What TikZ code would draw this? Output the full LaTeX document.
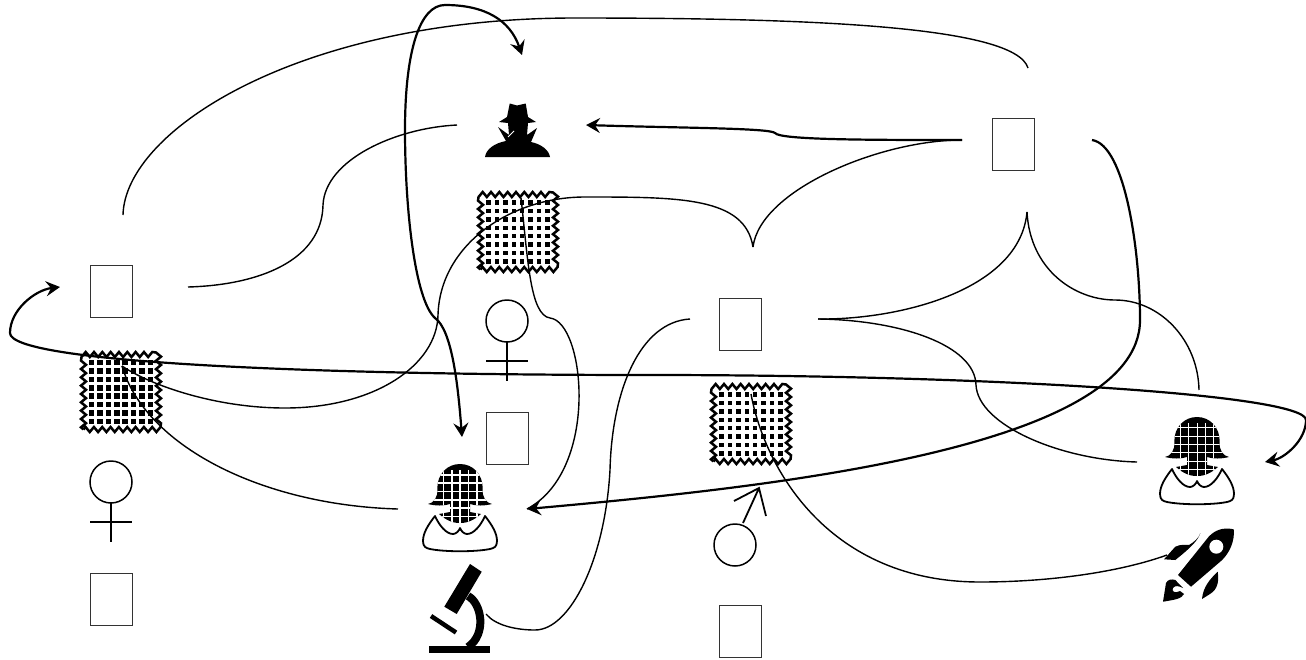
\documentclass[tikz,border=0pt]{standalone}
\usetikzlibrary{arrows.meta}
\usetikzlibrary{decorations.pathmorphing}

\tikzset{
	boxnode/.style={draw=black!80,line width=0.9pt,fill=white,minimum width=42,minimum height=52,inner sep=0pt,outer sep=0pt},
	stampbox/.style={draw,line width=2.5pt,minimum size=75,inner sep=0pt,outer sep=0pt,decorate,
		decoration={zigzag,segment length=8.33,amplitude=2.5},
		path picture={
			\foreach \i in {-3.5,...,3.5}
				\foreach \j in {-3.5,...,3.5}
					\path[decorate=false,draw=none,fill=black,line width=0pt,shift={(path picture bounding box.center)}] (\i*8.4-#1/2,\j*8.4-#1/2) rectangle +(#1,#1);
		}},
	link/.style={line width=1.4pt},
	flow/.style={line width=2.2pt},
	flowtip/.tip={Stealth[length=14pt,width=15pt,inset=5pt]},
	pics/venus/.style={code={
		\draw [line width=1.5pt] (0,0) circle (21);
		\draw [line width=1.8pt] (0,21) -- (0,60) (-21,40) -- (21,40);
	}},
	pics/mars/.style={code={
		\draw [line width=1.5pt] (0,0) circle (21);
		\draw [line width=1.8pt] (8,-22) -- (24,-57) (-1,-44) -- (24,-57) -- (31,-29);
	}},
	pics/woman/.style={code={
		\fill [path picture={
			\foreach \k in {-16.7,-8.3,0,8.3,16.7} \draw [white,line width=#1] (\k,-33) -- (\k,30);
			\foreach \k in {-28.3,-20,-11.7,-3.3,5,13.3,21.7} \draw [white,line width=#1] (-35,\k) -- (35,\k);
		}]
			(-32,1) .. controls (-26,0) and (-22,-6) .. (-22.7,-14)
			.. controls (-23,-29) and (-12.7,-39) .. (0,-39)
			.. controls (12.7,-39) and (23,-29) .. (22.7,-14)
			.. controls (22,-6) and (26,0) .. (32,1)
			.. controls (24,3) and (16,3) .. (10,1) -- (10,9) -- (21,11)
			.. controls (12,19) and (5,20) .. (0,20) .. controls (-5,20) and (-12,19) .. (-21,11)
			-- (-10,9) -- (-10,1)
			.. controls (-16,3) and (-24,3) .. cycle;
		\draw [fill=white,line width=1.8pt,line join=round]
			(-25,13) .. controls (-32,22) and (-37,30) .. (-37,38)
			.. controls (-37,44) and (-34,45) .. (-30,46)
			.. controls (-15,49) and (15,49) .. (30,46)
			.. controls (34,45) and (37,44) .. (37,38)
			.. controls (37,30) and (32,22) .. (25,13)
			.. controls (21,22) and (14,31) .. (7,31)
			.. controls (4,31) and (1,28) .. (0,25)
			.. controls (-1,28) and (-4,31) .. (-7,31)
			.. controls (-14,31) and (-21,22) .. cycle;
	}},
	pics/spy/.style={code={
		\fill (-7.3,-26.5) -- (0,-24.5) -- (8.7,-26.5) -- (11,-13) -- (19,-8) -- (11,-7) -- (10,5) -- (20,-2) -- (14,12)
			.. controls (24,14) and (32,20) .. (33,27) -- (-32,27)
			.. controls (-31,19) and (-22,13) .. (-11,11) -- (-19,-3) -- (-8,5) -- (-9,-7) -- (-18,-8) -- (-10,-13) -- cycle;
		\draw [white,line width=1pt] (-9,7) -- (-3,1);
	}},
	pics/scope/.style={code={
		\fill (10,-56) -- (21.7,-48.3) -- (-3.3,-6) -- (-15.7,-13.3) -- cycle;
		\fill (-30.7,25.7) rectangle (30,32.7);
		\draw [line width=4.5pt] (-29,-4) -- (-4,12.5);
		\draw [line width=8pt] (8,-24) .. controls (21.7,-16.7) and (27,14) .. (8,27);
	}},
	pics/rocket/.style={code={
		\fill (36.7,-35.7) .. controls (26,-38) and (18,-35) .. (11.7,-28.3) -- (-19,10) -- (-6,21.7) -- (24,-4)
			.. controls (33,-12) and (38,-25) .. cycle;
		\fill [white] (19.3,-18.3) circle (7);
		\fill (-33,-5.7) -- (-21.7,-18.3) .. controls (-16,-21) and (-12,-20) .. (-8,-20)
			.. controls (-3,-23) and (2,-27) .. (3.3,-32) .. controls (1,-24) and (-8,-16) .. (-21.7,-5) -- cycle;
		\fill (5,34) .. controls (6,22) and (13,14) .. (20.7,6.7) .. controls (22,16) and (21,24) .. (13,29) -- cycle;
		\fill (-34,36.7) -- (-31,18) .. controls (-29,14) and (-25,14) .. (-21.7,15) -- (-14,23)
			.. controls (-18,21) and (-22,20) .. (-24,23) .. controls (-26,26) and (-22,29) .. (-17,26) -- (-13,29)
			.. controls (-15,34) and (-24,35) .. cycle;
	}},
}

\begin{document}
\begin{tikzpicture}[x=1pt,y=-1pt]
	\useasboundingbox (0,0) rectangle (1306,659);

	% stamps
	\node [stampbox=4.5] (stampTop) at (518,232) {};
	\node [stampbox=5.5] (stampLeft) at (121,392) {};
	\node [stampbox=4.5] (stampMid) at (751,424) {};

	% boxes
	\node [boxnode] (boxLeft) at (111,291) {};
	\node [boxnode] (boxRight) at (1013,144) {};
	\node [boxnode] (boxMid) at (740,324) {};
	\node [boxnode] (boxVenus) at (507,438) {};
	\node [boxnode] (boxLow) at (111,599) {};
	\node [boxnode] (boxMars) at (740,631) {};

	% symbols
	\pic (venusLeft) at (111,482) {venus};
	\pic (venusTop) at (507,321) {venus};
	\pic (marsMid) at (735,545) {mars};
	\pic (womanLeft) at (460,503) {woman=1.6pt};
	\pic (womanRight) at (1197,456) {woman=0.8pt};
	\pic (spyTop) at (517,130) {spy};
	\pic (scopeLow) at (460,620) {scope};
	\pic (rocketRight) at (1197,565) {rocket};

	% free ends of the connectors
	\coordinate (leftUp) at (123,215);
	\coordinate (rightUp) at (1028,68);
	\coordinate (leftOut) at (188,287);
	\coordinate (spyIn) at (457,125);
	\coordinate (stampLeftA) at (122,366);
	\coordinate (cuspMid) at (753,247);
	\coordinate (rightOut) at (962,140);
	\coordinate (womanLeftIn) at (398,509);
	\coordinate (stampTopA) at (521,198);
	\coordinate (womanLeftTip) at (527,509);
	\coordinate (midIn) at (690,319);
	\coordinate (scopeIn) at (486,614);
	\coordinate (midOut) at (818,319);
	\coordinate (cuspRight) at (1027,212);
	\coordinate (womanRightUp) at (1199,390);
	\coordinate (womanRightIn) at (1137,462);
	\coordinate (stampMidA) at (751,394);
	\coordinate (rocketIn) at (1167,555);
	\coordinate (spyTip) at (586,125);
	\coordinate (spyTopTip) at (522,55);
	\coordinate (womanTopTip) at (462,437);
	\coordinate (rightDown) at (1092,140);
	\coordinate (boxLeftTip) at (60,287);
	\coordinate (womanRightTip) at (1265,462);

	% thin links
	\draw [link] (leftUp) .. controls (125,130) and (300,18) .. (575,18) .. controls (800,18) and (1015,25) .. (rightUp);
	\draw [link] (leftOut) .. controls (260,285) and (322,260) .. (323,205) .. controls (325,160) and (395,128) .. (spyIn);
	\draw [link] (stampLeftA) .. controls (150,385) and (215,408) .. (285,408)
		.. controls (375,408) and (437,365) .. (438,315)
		.. controls (440,245) and (510,197) .. (585,197)
		.. controls (680,197) and (745,197) .. (cuspMid);
	\draw [link] (cuspMid) .. controls (760,190) and (880,140) .. (rightOut);
	\draw [link] (stampLeftA) .. controls (145,445) and (260,505) .. (womanLeftIn);
	\draw [link] (stampTopA) .. controls (528,260) and (530,315) .. (550,318) .. controls (585,322) and (600,470) .. (womanLeftTip);
	\draw [link] (midIn) .. controls (640,322) and (612,390) .. (610,470) .. controls (605,560) and (570,630) .. (535,630) .. controls (515,630) and (495,625) .. (scopeIn);
	\draw [link] (midOut) .. controls (900,320) and (1020,290) .. (cuspRight);
	\draw [link] (cuspRight) .. controls (1030,270) and (1075,300) .. (1115,300) .. controls (1160,300) and (1198,340) .. (womanRightUp);
	\draw [link] (midOut) .. controls (900,320) and (975,345) .. (976,385) .. controls (978,425) and (1060,460) .. (womanRightIn);
	\draw [link] (stampMidA) .. controls (765,470) and (830,582) .. (980,582) .. controls (1050,582) and (1120,572) .. (rocketIn);

	% thick arrows
	\draw [flow][-flowtip] (rightOut) .. controls (870,140) and (780,140) .. (775,133) .. controls (770,128) and (680,128) .. (spyTip);
	\draw [flow][flowtip-flowtip] (womanTopTip) .. controls (458,385) and (452,330) .. (435,318)
		.. controls (415,300) and (405,210) .. (405,130)
		.. controls (405,50) and (420,5) .. (445,5)
		.. controls (485,5) and (510,20) .. (spyTopTip);
	\draw [flow][-flowtip] (rightDown) .. controls (1125,145) and (1140,250) .. (1140,320)
		.. controls (1140,450) and (760,488) .. (womanLeftTip);
	\draw [flow][flowtip-flowtip] (boxLeftTip) .. controls (35,290) and (10,310) .. (10,333)
		.. controls (10,362) and (300,375) .. (650,375)
		.. controls (1000,375) and (1306,395) .. (1306,420)
		.. controls (1306,440) and (1285,458) .. (womanRightTip);
\end{tikzpicture}
\end{document}
